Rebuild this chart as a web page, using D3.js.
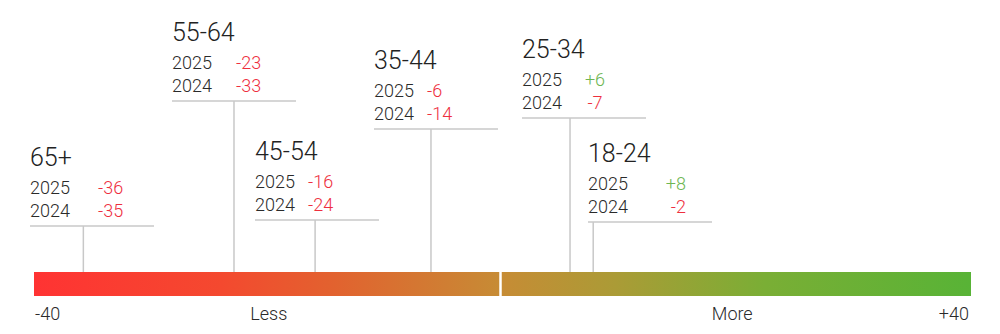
<!DOCTYPE html>
<html>
<head>
<meta charset="utf-8">
<script src="https://cdn.jsdelivr.net/npm/d3@7"></script>
<style>
  html, body { margin: 0; padding: 0; background: #fff; }
  svg { display: block; }
  text { font-family: Roboto, "Noto Sans", sans-serif; }
</style>
</head>
<body>
<svg id="chart" width="1000" height="334"></svg>
<script>
// ---- data ----
const groups = ["65+", "55-64", "45-54", "35-44", "25-34", "18-24"];
const values2025 = [-36, -23, -16, -6, 6, 8];
const values2024 = [-35, -33, -24, -14, -7, -2];
const years = ["2025", "2024"];
const tickValues = [-40, -20, 20, 40];
const tickLabels = ["-40", "Less", "More", "+40"];

// ---- layout (label boxes) ----
const boxLeft = [30, 172, 255, 374, 522, 588];
const ruleY   = [226, 101, 220, 129, 118, 222];
const valOffset = [68, 64, 53, 53, 73, 98];
const valAnchor = ["start", "start", "start", "start", "middle", "end"];
const boxWidth = 124;

const svg = d3.select("#chart");
const x = d3.scaleLinear().domain([-40, 40]).range([37, 964]);

const barTop = 272, barH = 24;
const barLeft = x(-40) - 3, barRight = x(40) + 7;

// gradient
const defs = svg.append("defs");
const grad = defs.append("linearGradient").attr("id", "g")
  .attr("x1", "0%").attr("x2", "100%").attr("y1", "0%").attr("y2", "0%");
[[0, "#ff3333"], [0.2, "#f4492f"], [0.32, "#e2622f"], [0.5, "#c68c35"],
 [0.62, "#ab9b36"], [0.78, "#7aae35"], [1, "#58b336"]].forEach(([o, c]) =>
  grad.append("stop").attr("offset", o).attr("stop-color", c));

// stems
const data = groups.map((g, i) => ({ g, v25: values2025[i], v24: values2024[i], i }));

svg.append("g").selectAll("line").data(data).join("line")
  .attr("x1", d => x(d.v25)).attr("x2", d => x(d.v25))
  .attr("y1", d => ruleY[d.i]).attr("y2", barTop)
  .attr("stroke", "#c8c8c8").attr("stroke-width", 1.5);

// bar
svg.append("rect")
  .attr("x", barLeft).attr("y", barTop)
  .attr("width", barRight - barLeft).attr("height", barH)
  .attr("fill", "url(#g)");

// zero divider
svg.append("line")
  .attr("x1", x(0)).attr("x2", x(0))
  .attr("y1", barTop).attr("y2", barTop + barH)
  .attr("stroke", "#fff").attr("stroke-width", 2.5);

// label boxes
const box = svg.append("g").selectAll("g").data(data).join("g");

box.append("line")
  .attr("x1", d => boxLeft[d.i]).attr("x2", d => boxLeft[d.i] + boxWidth)
  .attr("y1", d => ruleY[d.i]).attr("y2", d => ruleY[d.i])
  .attr("stroke", "#c8c8c8").attr("stroke-width", 1.5);

box.append("text")
  .attr("x", d => boxLeft[d.i]).attr("y", d => ruleY[d.i] - 60)
  .attr("font-size", 25).attr("fill", "#222").attr("font-weight", 300)
  .text(d => d.g);

const rowDy = [-32, -9];
years.forEach((yr, k) => {
  box.append("text")
    .attr("x", d => boxLeft[d.i]).attr("y", d => ruleY[d.i] + rowDy[k])
    .attr("font-size", 18).attr("fill", "#2a2a2a").attr("font-weight", 300)
    .text(yr);
  box.append("text")
    .attr("x", d => boxLeft[d.i] + valOffset[d.i]).attr("y", d => ruleY[d.i] + rowDy[k])
    .attr("text-anchor", d => valAnchor[d.i])
    .attr("font-size", 18).attr("font-weight", 300)
    .attr("fill", d => { const v = k === 0 ? d.v25 : d.v24; return v > 0 ? "#6db652" : "#ee2f3e"; })
    .text(d => { const v = k === 0 ? d.v25 : d.v24; return (v > 0 ? "+" : "") + v; });
});

// axis labels
svg.append("g").selectAll("text").data(tickValues).join("text")
  .attr("x", (d, i) => i === 0 ? barLeft + 1 : i === tickValues.length - 1 ? barRight - 2 : x(d))
  .attr("y", 320)
  .attr("text-anchor", (d, i) => i === 0 ? "start" : i === tickValues.length - 1 ? "end" : "middle")
  .attr("font-size", 18).attr("fill", "#2a2a2a").attr("font-weight", 300)
  .text((d, i) => tickLabels[i]);
</script>
</body>
</html>
